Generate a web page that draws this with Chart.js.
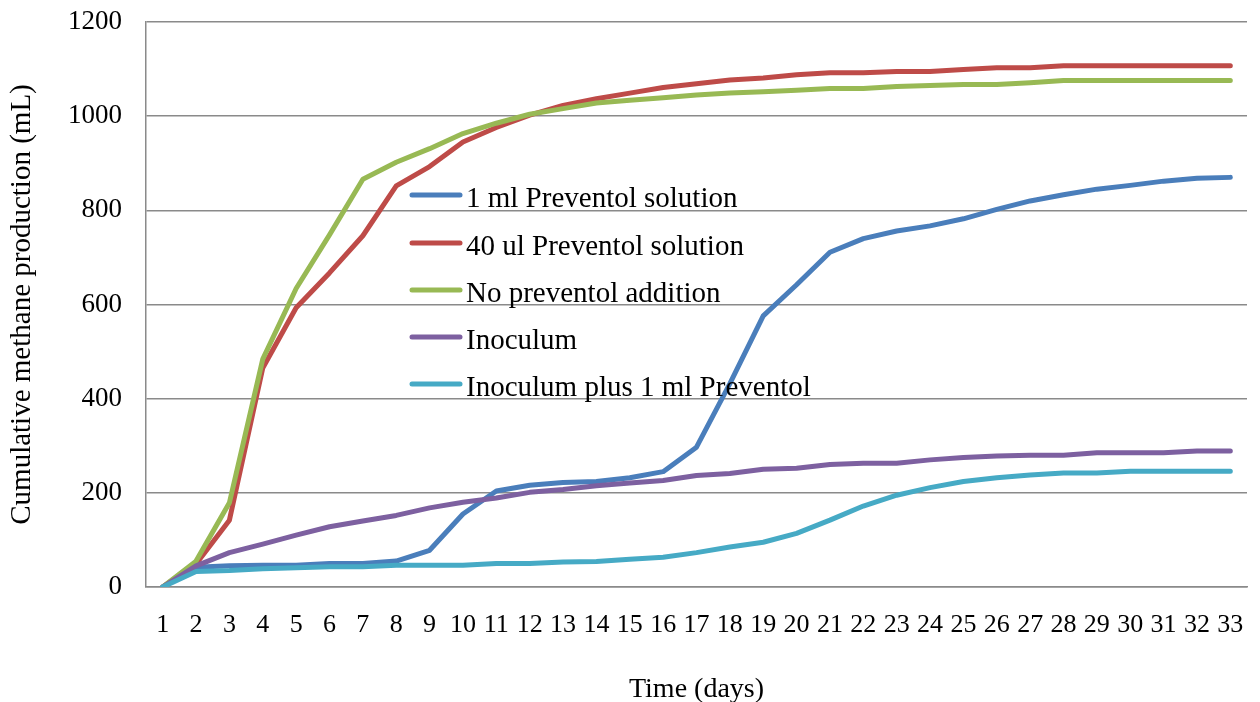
<!DOCTYPE html>
<html>
<head>
<meta charset="utf-8">
<script src="https://cdn.jsdelivr.net/npm/chart.js@4"></script>
<style>
  html, body { margin: 0; padding: 0; background: #fff; }
  #wrap { width: 1260px; height: 702px; position: relative; }
</style>
</head>
<body>
<div id="wrap"><canvas id="methaneChart"></canvas></div>
<script>
const FONT = "'Liberation Serif', 'Times New Roman', serif";
const GRID_COLOR = "#8a8a8a";

const days = [1, 2, 3, 4, 5, 6, 7, 8, 9, 10, 11, 12, 13, 14, 15, 16, 17,
  18, 19, 20, 21, 22, 23, 24, 25, 26, 27, 28, 29, 30, 31, 32, 33];

const seriesNames = [
  "1 ml Preventol solution",
  "40 ul Preventol solution",
  "No preventol addition",
  "Inoculum",
  "Inoculum plus 1 ml Preventol",
];
const seriesColors = ["#4A7EBB", "#BE4B48", "#98B954", "#7D60A0", "#46AAC5"];

const oneMl = [0, 42, 45, 46, 46, 50, 50, 55, 78, 155, 204, 216, 222, 224, 232,
  245, 297, 432, 576, 642, 711, 740, 756, 767, 782, 802, 820, 833, 845, 853,
  862, 868, 870];
const fortyUl = [0, 49, 142, 465, 593, 667, 746, 852, 893, 945, 976, 1002, 1023,
  1037, 1049, 1061, 1069, 1077, 1081, 1088, 1092, 1092, 1095, 1095, 1099, 1103,
  1103, 1107, 1107, 1107, 1107, 1107, 1107];
const noPreventol = [0, 55, 179, 484, 634, 748, 866, 902, 931, 963, 985, 1004,
  1016, 1028, 1034, 1039, 1045, 1049, 1052, 1055, 1059, 1059, 1063, 1065, 1067,
  1067, 1071, 1076, 1076, 1076, 1076, 1076, 1076];
const inoculum = [0, 45, 73, 91, 110, 128, 140, 152, 168, 180, 189, 201, 207,
  215, 221, 226, 237, 241, 250, 252, 260, 263, 263, 270, 275, 278, 280, 280,
  285, 285, 285, 289, 289];
const inoculumPlus = [0, 33, 35, 39, 41, 43, 43, 46, 46, 46, 50, 50, 53, 54, 59,
  63, 73, 85, 95, 114, 142, 172, 195, 211, 224, 232, 238, 242, 242, 246, 246,
  246, 246];

const allSeries = [oneMl, fortyUl, noPreventol, inoculum, inoculumPlus];

// legend drawn inside the plot area, like the Excel original
const insideLegend = {
  id: "insideLegend",
  afterDraw(chart) {
    const ctx = chart.ctx;
    const rowY = [195, 243, 290, 337, 384];
    ctx.save();
    ctx.font = "29px " + FONT;
    ctx.textBaseline = "alphabetic";
    ctx.fillStyle = "#000";
    chart.data.datasets.forEach((ds, i) => {
      const y = rowY[i];
      ctx.strokeStyle = ds.borderColor;
      ctx.lineWidth = 5;
      ctx.lineCap = "round";
      ctx.beginPath();
      ctx.moveTo(412, y);
      ctx.lineTo(460, y);
      ctx.stroke();
      ctx.fillText(ds.label, 466, y + 12);
    });
    ctx.restore();
  },
};

new Chart(document.getElementById("methaneChart"), {
  type: "line",
  data: {
    labels: days,
    datasets: allSeries.map((data, i) => ({
      label: seriesNames[i],
      data: data,
      borderColor: seriesColors[i],
      backgroundColor: seriesColors[i],
      borderWidth: 5,
      borderCapStyle: "round",
      borderJoinStyle: "round",
      pointRadius: 0,
      tension: 0,
      order: allSeries.length - i,
    })),
  },
  options: {
    responsive: true,
    maintainAspectRatio: false,
    animation: false,
    layout: { padding: { top: 22, right: 13, left: 0, bottom: 0 } },
    plugins: {
      legend: { display: false },
      tooltip: { enabled: false },
    },
    scales: {
      x: {
        offset: true,
        afterFit: (s) => {
          s.height = 115;
          s.paddingLeft = 0;
          s.paddingRight = 0;
        },
        grid: { display: false, drawTicks: false },
        border: { display: true, color: GRID_COLOR, width: 1.5 },
        ticks: {
          color: "#000",
          font: { family: FONT, size: 26 },
          padding: 23,
          autoSkip: false,
          maxRotation: 0,
        },
        title: {
          display: true,
          text: "Time (days)",
          color: "#000",
          font: { family: FONT, size: 28, lineHeight: 0.9 },
          padding: { top: 0, bottom: 0 },
        },
      },
      y: {
        min: 0,
        max: 1200,
        afterFit: (s) => {
          s.width = 146;
          s.paddingTop = 0;
          s.paddingBottom = 0;
        },
        grid: { color: GRID_COLOR, lineWidth: 1.5, drawTicks: false },
        border: { display: true, color: GRID_COLOR, width: 1.5 },
        ticks: {
          stepSize: 200,
          color: "#000",
          font: { family: FONT, size: 27 },
          padding: 24,
          callback: (v) => String(v),
        },
        title: {
          display: true,
          text: "Cumulative methane production (mL)",
          color: "#000",
          font: { family: FONT, size: 29 },
          padding: { top: 5, bottom: 0 },
        },
      },
    },
  },
  plugins: [insideLegend],
});
</script>
</body>
</html>
